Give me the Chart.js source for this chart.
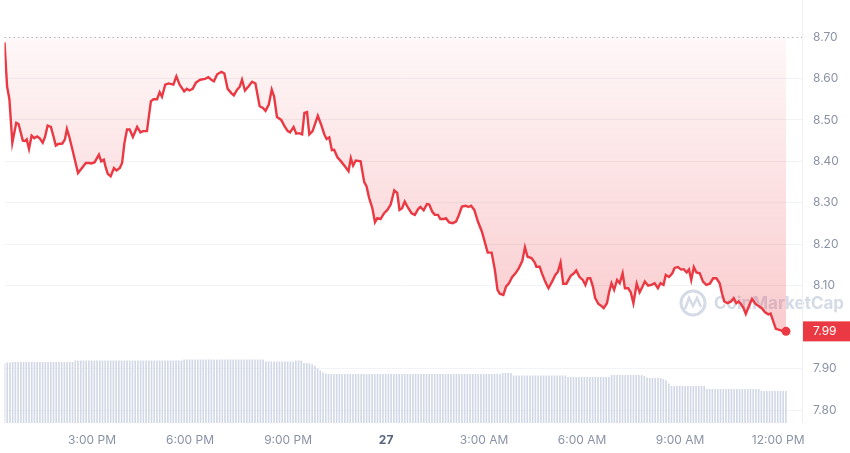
<!DOCTYPE html>
<html>
<head>
<meta charset="utf-8">
<title>Price chart</title>
<script src="https://cdn.jsdelivr.net/npm/chart.js@4.4.1/dist/chart.umd.min.js"></script>
<style>
  html, body { margin: 0; padding: 0; background: #fff; }
  #wrap { width: 850px; height: 453px; position: relative; }
</style>
</head>
<body>
<div id="wrap"><canvas id="priceChart"></canvas></div>
<script>
// Price points: time in hours since midnight of the 26th, price in USD
const priceTimes = [
  12.32, 12.40, 12.47, 12.56, 12.68, 12.75, 12.88, 12.95, 13.00, 13.07, 13.15, 13.23,
  13.32, 13.39, 13.49, 13.56, 13.64, 13.74, 13.82, 13.89, 13.97, 14.09, 14.17, 14.23,
  14.30, 14.40, 14.57, 14.65, 14.81, 14.91, 14.98, 15.08, 15.21, 15.28, 15.36, 15.41,
  15.48, 15.57, 15.67, 15.75, 15.85, 15.92, 15.99, 16.07, 16.15, 16.25, 16.38, 16.48,
  16.56, 16.68, 16.80, 16.88, 16.99, 17.07, 17.14, 17.24, 17.34, 17.49, 17.58, 17.68,
  17.82, 17.90, 17.98, 18.08, 18.18, 18.31, 18.46, 18.56, 18.66, 18.73, 18.83, 18.96,
  19.05, 19.15, 19.27, 19.34, 19.44, 19.52, 19.59, 19.68, 19.78, 19.90, 20.00, 20.13,
  20.23, 20.31, 20.41, 20.50, 20.57, 20.66, 20.79, 20.89, 20.99, 21.06, 21.17, 21.25,
  21.33, 21.43, 21.50, 21.58, 21.65, 21.75, 21.91, 22.01, 22.11, 22.18, 22.26, 22.34,
  22.41, 22.51, 22.62, 22.75, 22.85, 22.92, 22.99, 23.07, 23.22, 23.33, 23.40, 23.48,
  23.58, 23.66, 23.73, 23.83, 23.94, 24.04, 24.14, 24.25, 24.34, 24.41, 24.49, 24.57,
  24.68, 24.78, 24.88, 24.98, 25.05, 25.15, 25.25, 25.32, 25.41, 25.49, 25.59, 25.66,
  25.76, 25.83, 25.93, 26.04, 26.14, 26.22, 26.32, 26.44, 26.52, 26.60, 26.70, 26.81,
  26.93, 27.03, 27.11, 27.23, 27.33, 27.41, 27.48, 27.59, 27.67, 27.76, 27.86, 27.96,
  28.06, 28.17, 28.25, 28.33, 28.45, 28.55, 28.60, 28.70, 28.77, 28.87, 28.97, 29.08,
  29.18, 29.26, 29.34, 29.42, 29.52, 29.65, 29.75, 29.82, 29.92, 30.02, 30.10, 30.17,
  30.25, 30.33, 30.40, 30.50, 30.58, 30.66, 30.76, 30.83, 30.90, 30.98, 31.07, 31.15,
  31.24, 31.31, 31.41, 31.49, 31.57, 31.67, 31.76, 31.85, 31.92, 32.02, 32.12, 32.22,
  32.32, 32.40, 32.49, 32.56, 32.66, 32.76, 32.83, 32.93, 33.03, 33.11, 33.20, 33.27,
  33.34, 33.42, 33.50, 33.60, 33.70, 33.80, 33.91, 34.01, 34.11, 34.21, 34.28, 34.35,
  34.45, 34.56, 34.64, 34.72, 34.79, 34.86, 34.94, 35.01, 35.09, 35.20, 35.30, 35.40,
  35.50, 35.60, 35.70, 35.77, 35.85, 35.93, 36.06, 36.16, 36.24
];
const prices = [
  8.687, 8.58, 8.55, 8.445, 8.493, 8.49, 8.45, 8.449, 8.453, 8.43, 8.462, 8.456,
  8.46, 8.456, 8.445, 8.459, 8.486, 8.483, 8.46, 8.438, 8.442, 8.443, 8.453, 8.478,
  8.46, 8.428, 8.372, 8.38, 8.396, 8.396, 8.395, 8.398, 8.416, 8.40, 8.404, 8.388,
  8.37, 8.364, 8.384, 8.378, 8.384, 8.396, 8.444, 8.477, 8.477, 8.459, 8.483, 8.47,
  8.473, 8.473, 8.545, 8.55, 8.55, 8.567, 8.556, 8.585, 8.588, 8.585, 8.605, 8.585,
  8.569, 8.575, 8.571, 8.575, 8.59, 8.597, 8.599, 8.603, 8.596, 8.593, 8.61, 8.616,
  8.612, 8.575, 8.564, 8.559, 8.573, 8.58, 8.597, 8.571, 8.58, 8.592, 8.588, 8.533,
  8.529, 8.522, 8.537, 8.573, 8.557, 8.507, 8.50, 8.485, 8.473, 8.47, 8.483, 8.467,
  8.468, 8.465, 8.517, 8.519, 8.465, 8.473, 8.51, 8.489, 8.465, 8.454, 8.458, 8.427,
  8.428, 8.41, 8.40, 8.387, 8.376, 8.408, 8.39, 8.402, 8.40, 8.35, 8.34, 8.312,
  8.287, 8.253, 8.263, 8.261, 8.275, 8.283, 8.296, 8.33, 8.324, 8.283, 8.287, 8.303,
  8.287, 8.275, 8.271, 8.285, 8.29, 8.282, 8.297, 8.296, 8.279, 8.271, 8.271, 8.261,
  8.261, 8.263, 8.253, 8.251, 8.255, 8.269, 8.291, 8.293, 8.29, 8.293, 8.283, 8.255,
  8.231, 8.203, 8.18, 8.18, 8.138, 8.09, 8.081, 8.078, 8.098, 8.106, 8.121, 8.13,
  8.142, 8.16, 8.193, 8.17, 8.167, 8.156, 8.146, 8.146, 8.13, 8.11, 8.094, 8.11,
  8.126, 8.134, 8.156, 8.105, 8.105, 8.124, 8.13, 8.137, 8.121, 8.114, 8.102, 8.118,
  8.118, 8.098, 8.07, 8.056, 8.052, 8.046, 8.058, 8.086, 8.106, 8.09, 8.114, 8.106,
  8.13, 8.094, 8.094, 8.084, 8.058, 8.105, 8.084, 8.098, 8.11, 8.10, 8.102, 8.106,
  8.094, 8.106, 8.102, 8.126, 8.121, 8.13, 8.143, 8.145, 8.139, 8.14, 8.132, 8.139,
  8.114, 8.145, 8.132, 8.13, 8.11, 8.102, 8.105, 8.118, 8.118, 8.106, 8.082, 8.062,
  8.058, 8.062, 8.07, 8.058, 8.062, 8.056, 8.046, 8.032, 8.048, 8.068, 8.057, 8.051,
  8.046, 8.036, 8.031, 8.033, 8.014, 7.996, 7.993, 7.99, 7.99
];

// Volume bars, one every 5 minutes starting at volumeStart (millions)
const volumeStart = 12.32;
const volumes = [
  118, 120, 120, 121, 121, 121, 121, 121, 121, 121, 121, 121,
  121, 121, 121, 121, 121, 121, 121, 121, 121, 121, 121, 121,
  121, 121, 124, 124, 124, 124, 124, 124, 124, 124, 124, 124,
  124, 124, 124, 124, 124, 124, 124, 124, 124, 124, 124, 124,
  124, 124, 124, 124, 124, 124, 124, 124, 124, 124, 124, 124,
  124, 124, 124, 124, 124, 124, 126, 126, 126, 126, 126, 126,
  126, 126, 126, 126, 126, 126, 126, 126, 126, 126, 126, 126,
  126, 126, 126, 126, 126, 126, 126, 126, 126, 126, 126, 126,
  122, 122, 122, 122, 122, 122, 122, 122, 122, 122, 122, 124,
  124, 124, 119, 119, 118, 116, 113, 108, 104, 100, 98, 97,
  97, 97, 97, 97, 97, 97, 97, 97, 97, 97, 97, 97,
  97, 97, 97, 97, 97, 97, 97, 97, 97, 97, 97, 97,
  97, 97, 97, 97, 97, 97, 97, 97, 97, 97, 97, 97,
  97, 97, 97, 97, 97, 97, 97, 97, 97, 97, 97, 97,
  97, 97, 97, 97, 97, 97, 97, 97, 97, 97, 97, 97,
  97, 97, 97, 99, 99, 99, 99, 94, 94, 94, 94, 94,
  94, 94, 94, 94, 94, 94, 94, 94, 94, 94, 94, 94,
  94, 94, 94, 91, 91, 91, 91, 91, 91, 91, 91, 91,
  91, 91, 91, 91, 91, 91, 91, 95, 95, 95, 95, 95,
  95, 95, 95, 95, 95, 95, 95, 93, 90, 89, 89, 89,
  89, 89, 87, 84, 78, 73, 73, 73, 73, 73, 73, 73,
  73, 73, 73, 73, 73, 73, 67, 67, 67, 67, 67, 67,
  67, 67, 67, 67, 67, 67, 67, 67, 67, 67, 67, 67,
  67, 67, 63, 63, 63, 63, 63, 63, 63, 63, 63, 63
];

// Axis ticks
const priceTicks = [7.80, 7.90, 8.00, 8.10, 8.20, 8.30, 8.40, 8.50, 8.60, 8.70];
const shownPriceTicks = [7.80, 7.90, 8.10, 8.20, 8.30, 8.40, 8.50, 8.60, 8.70];
const timeTicks = [15, 18, 21, 24, 27, 30, 33, 36];
const timeLabels = ['3:00 PM', '6:00 PM', '9:00 PM', '27', '3:00 AM', '6:00 AM', '9:00 AM', '12:00 PM'];

const red = '#ea3943';
const labelColor = '#8a93a6';

const pricePoints = priceTimes.map((t, i) => ({ x: t, y: prices[i] }));
const volumePoints = volumes.map((v, i) => ({ x: volumeStart + i / 12, y: v }));

// Watermark behind the line
const watermark = {
  id: 'watermark',
  beforeDatasetsDraw(chart) {
    const ctx = chart.ctx;
    ctx.save();
    ctx.strokeStyle = 'rgba(160, 172, 200, 0.45)';
    ctx.lineWidth = 3;
    ctx.beginPath();
    ctx.arc(693, 303, 12, 0, Math.PI * 2);
    ctx.stroke();
    ctx.lineWidth = 2.5;
    ctx.beginPath();
    ctx.moveTo(685, 309);
    ctx.lineTo(689, 298);
    ctx.lineTo(693, 306);
    ctx.lineTo(697, 298);
    ctx.lineTo(701, 307);
    ctx.stroke();
    ctx.fillStyle = 'rgba(160, 172, 200, 0.45)';
    ctx.font = 'bold 17px Inter';
    ctx.textBaseline = 'middle';
    ctx.fillText('CoinMarketCap', 714, 304);
    ctx.restore();
  }
};

// Dotted top line, right border and last price tag
const overlays = {
  id: 'overlays',
  afterDraw(chart) {
    const ctx = chart.ctx;
    const area = chart.chartArea;
    const y = chart.scales.y;
    ctx.save();
    ctx.strokeStyle = '#eef0f4';
    ctx.lineWidth = 1;
    ctx.beginPath();
    ctx.moveTo(area.right + 0.5, 0);
    ctx.lineTo(area.right + 0.5, area.bottom);
    ctx.stroke();

    const topY = Math.round(y.getPixelForValue(8.70)) + 0.5;
    ctx.strokeStyle = '#aeb6c4';
    ctx.setLineDash([1.5, 3]);
    ctx.beginPath();
    ctx.moveTo(area.left, topY);
    ctx.lineTo(area.right, topY);
    ctx.stroke();
    ctx.setLineDash([]);

    const last = prices[prices.length - 1];
    const ly = y.getPixelForValue(last);
    ctx.fillStyle = red;
    ctx.fillRect(area.right + 1, ly - 10, chart.width - area.right - 1, 20);
    ctx.fillStyle = '#fff';
    ctx.font = '12px Inter';
    ctx.textBaseline = 'middle';
    ctx.fillText(last.toFixed(2), area.right + 11, ly + 0.5);
    ctx.restore();
  }
};

new Chart(document.getElementById('priceChart'), {
  data: {
    datasets: [
      {
        type: 'line',
        data: pricePoints,
        yAxisID: 'y',
        borderColor: red,
        borderWidth: 2.4,
        tension: 0,
        fill: 'end',
        backgroundColor: (context) => {
          const area = context.chart.chartArea;
          if (!area) return 'rgba(234,57,67,0.1)';
          const g = context.chart.ctx.createLinearGradient(0, area.top, 0, area.bottom);
          g.addColorStop(0, 'rgba(234,57,67,0.04)');
          g.addColorStop(1, 'rgba(234,57,67,0.33)');
          return g;
        },
        pointRadius: (c) => c.dataIndex === prices.length - 1 ? 4.5 : 0,
        pointBackgroundColor: red,
        pointBorderWidth: 0,
        order: 0
      },
      {
        type: 'bar',
        data: volumePoints,
        yAxisID: 'yVol',
        backgroundColor: '#d2d8e6',
        barThickness: 1,
        order: 1
      }
    ]
  },
  options: {
    responsive: true,
    maintainAspectRatio: false,
    animation: false,
    devicePixelRatio: 1,
    layout: { padding: { top: 37, left: 0, right: 0, bottom: 0 } },
    plugins: { legend: { display: false }, tooltip: { enabled: false } },
    scales: {
      x: {
        type: 'linear',
        offset: false,
        min: 12.32,
        max: 36.73,
        afterBuildTicks: (scale) => { scale.ticks = timeTicks.map(v => ({ value: v })); },
        afterFit: (scale) => { scale.height = 30; },
        grid: { display: false, drawTicks: false, offset: false },
        border: { display: false },
        ticks: {
          padding: 10,
          maxRotation: 0,
          autoSkip: false,
          color: (c) => c.tick && c.tick.value === 24 ? '#58667e' : labelColor,
          font: (c) => c.tick && c.tick.value === 24
            ? { family: 'Inter', size: 12, weight: 'bold' }
            : { family: 'Inter', size: 12 },
          callback: (value) => timeLabels[timeTicks.indexOf(value)]
        }
      },
      y: {
        position: 'right',
        min: 7.769,
        max: 8.70,
        afterBuildTicks: (scale) => { scale.ticks = priceTicks.map(v => ({ value: v })); },
        afterFit: (scale) => { scale.width = 48; },
        grid: {
          drawTicks: false,
          color: (c) => c.tick && (c.tick.value === 8.70 || c.tick.value === 8.00) ? 'rgba(0,0,0,0)' : '#f1f3f6'
        },
        border: { display: false },
        ticks: {
          padding: 11,
          color: labelColor,
          font: { family: 'Inter', size: 12 },
          callback: (value) => shownPriceTicks.includes(value) ? value.toFixed(2) : ''
        }
      },
      yVol: {
        display: false,
        min: 0,
        max: 770
      }
    }
  },
  plugins: [watermark, overlays]
});
</script>
</body>
</html>
